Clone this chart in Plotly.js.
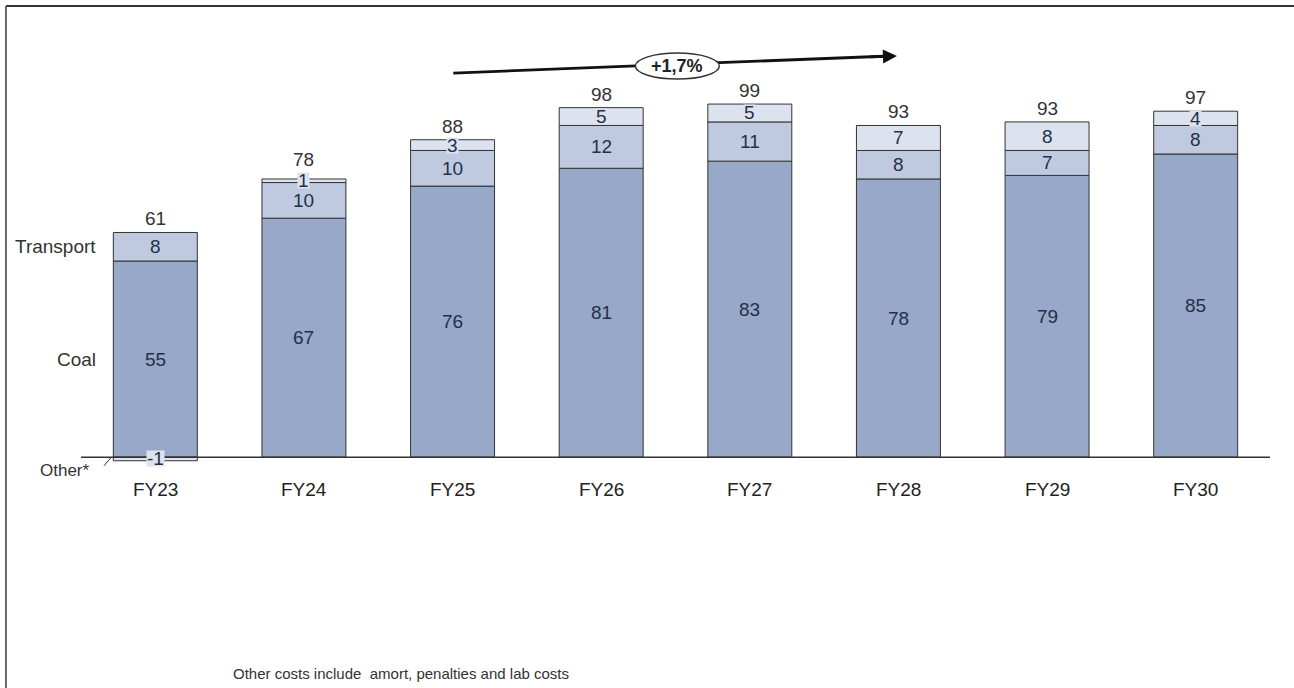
<!DOCTYPE html>
<html>
<head>
<meta charset="utf-8">
<script src="https://cdn.plot.ly/plotly-3.0.1.min.js"></script>
<style>
  html, body { margin: 0; padding: 0; background: #ffffff; }
  #chart { width: 1294px; height: 688px; }
</style>
</head>
<body>
<div id="chart"></div>
<script>
// Cost build-up per fiscal year
const years = ['FY23', 'FY24', 'FY25', 'FY26', 'FY27', 'FY28', 'FY29', 'FY30'];
const coal = [55, 67, 76, 81, 83, 78, 79, 85];
const transport = [8, 10, 10, 12, 11, 8, 7, 8];
const other = [-1, 1, 3, 5, 5, 7, 8, 4];
const totals = [61, 78, 88, 98, 99, 93, 93, 97];
const cagrLabel = '+1,7%';
const footnote = 'Other costs include  amort, penalties and lab costs';

const FONT = '"Liberation Sans", Arial, sans-serif';
const C_COAL = '#97a8c8';
const C_TRANS = '#bfcae0';
const C_OTHER = '#dde3ee';
const EDGE = '#333333';
const X = years.map((_, i) => i);

function barTrace(name, vals, color) {
  return {
    type: 'bar', name: name, x: X, y: vals, width: 0.565,
    marker: { color: color, line: { color: EDGE, width: 1 } },
    hoverinfo: 'skip', showlegend: false
  };
}

const traces = [
  barTrace('Coal', coal, C_COAL),
  barTrace('Transport', transport, C_TRANS),
  barTrace('Other', other, C_OTHER)
];

const ann = [];
const segFont = { family: FONT, size: 19, color: '#24304a' };

X.forEach(i => {
  // segment labels, centred in each stacked block
  ann.push({ x: i, y: coal[i] / 2, text: String(coal[i]), showarrow: false, font: segFont });
  ann.push({ x: i, y: coal[i] + transport[i] / 2, text: String(transport[i]), showarrow: false, font: segFont });
  const oy = other[i] >= 0 ? coal[i] + transport[i] + other[i] / 2 : other[i] / 2;
  ann.push({ x: i, y: oy, text: String(other[i]), showarrow: false, font: segFont,
             bgcolor: C_OTHER, borderpad: 0, height: 15 });
  // total above the positive stack; a thin top block pushes it up a little
  const top = [coal[i], transport[i], other[i]].filter(v => v > 0).reduce((a, b) => a + b, 0);
  const thin = other[i] > 0 && other[i] < 2;
  ann.push({ x: i, y: top, yanchor: 'bottom', yshift: thin ? 7 : 1, text: String(totals[i]), showarrow: false,
             font: { family: FONT, size: 19, color: '#333333' } });
  // category label
  ann.push({ x: i, y: -9, text: years[i], showarrow: false,
             font: { family: FONT, size: 19, color: '#222222' } });
});

// row labels on the left
const rowFont = { family: FONT, size: 19, color: '#333333' };
ann.push({ xref: 'paper', x: 0.0143, xanchor: 'right', y: coal[0] + transport[0] / 2, text: 'Transport', showarrow: false, font: rowFont });
ann.push({ xref: 'paper', x: 0.0143, xanchor: 'right', y: coal[0] / 2, text: 'Coal', showarrow: false, font: rowFont });
ann.push({ xref: 'paper', x: 0.0095, xanchor: 'right', y: -3.7, text: 'Other*', showarrow: false,
           font: { family: FONT, size: 17, color: '#333333' } });

// growth arrow head and label
ann.push({ x: 4.99, y: 112.5, ax: 4.80, ay: 112.2, axref: 'x', ayref: 'y', text: '',
           showarrow: true, arrowhead: 2, arrowsize: 1, arrowwidth: 2.8, arrowcolor: '#111111' });
ann.push({ x: 3.513, y: 109.7, text: '<b>' + cagrLabel + '</b>', showarrow: false,
           font: { family: FONT, size: 18, color: '#222222' } });

// footnote
ann.push({ xref: 'paper', yref: 'paper', x: 0.126, y: -0.3825, xanchor: 'left', yanchor: 'middle',
           text: footnote, showarrow: false, font: { family: FONT, size: 15, color: '#333333' } });

const shapes = [
  // zero baseline
  { type: 'line', xref: 'x', yref: 'y', x0: -0.5, x1: 7.5, y0: 0, y1: 0, line: { color: '#333333', width: 1.5 } },
  // pointer to the "Other" block
  { type: 'line', xref: 'x', yref: 'y', x0: -0.345, x1: -0.3, y0: -2.4, y1: -0.2, line: { color: '#333333', width: 1 } },
  // growth arrow shaft
  { type: 'line', xref: 'x', yref: 'y', x0: 2.005, x1: 4.90, y0: 107.7, y1: 112.4, line: { color: '#111111', width: 2.8 } },
  // label ellipse
  { type: 'circle', xref: 'x', yref: 'y', x0: 3.23, x1: 3.795, y0: 106.0, y1: 113.3,
    fillcolor: '#ffffff', line: { color: '#333333', width: 1.5 } },
  // page frame (top and left)
  { type: 'line', xref: 'paper', yref: 'paper', x0: -0.0631, x1: 1.05, y0: 1.0905, y1: 1.0905, line: { color: '#333333', width: 2 } },
  { type: 'line', xref: 'paper', yref: 'paper', x0: -0.0631, x1: -0.0631, y0: 1.0905, y1: -0.5, line: { color: '#666666', width: 2 } }
];

const layout = {
  width: 1294, height: 688,
  margin: { l: 81, r: 24, t: 47, b: 188 },
  paper_bgcolor: '#ffffff', plot_bgcolor: '#ffffff',
  barmode: 'relative', bargap: 0,
  font: { family: FONT },
  xaxis: { range: [-0.5, 7.5], visible: false, fixedrange: true },
  yaxis: { range: [-12, 115], visible: false, fixedrange: true },
  annotations: ann,
  shapes: shapes,
  showlegend: false
};

Plotly.newPlot('chart', traces, layout, { displayModeBar: false, staticPlot: true });
</script>
</body>
</html>
